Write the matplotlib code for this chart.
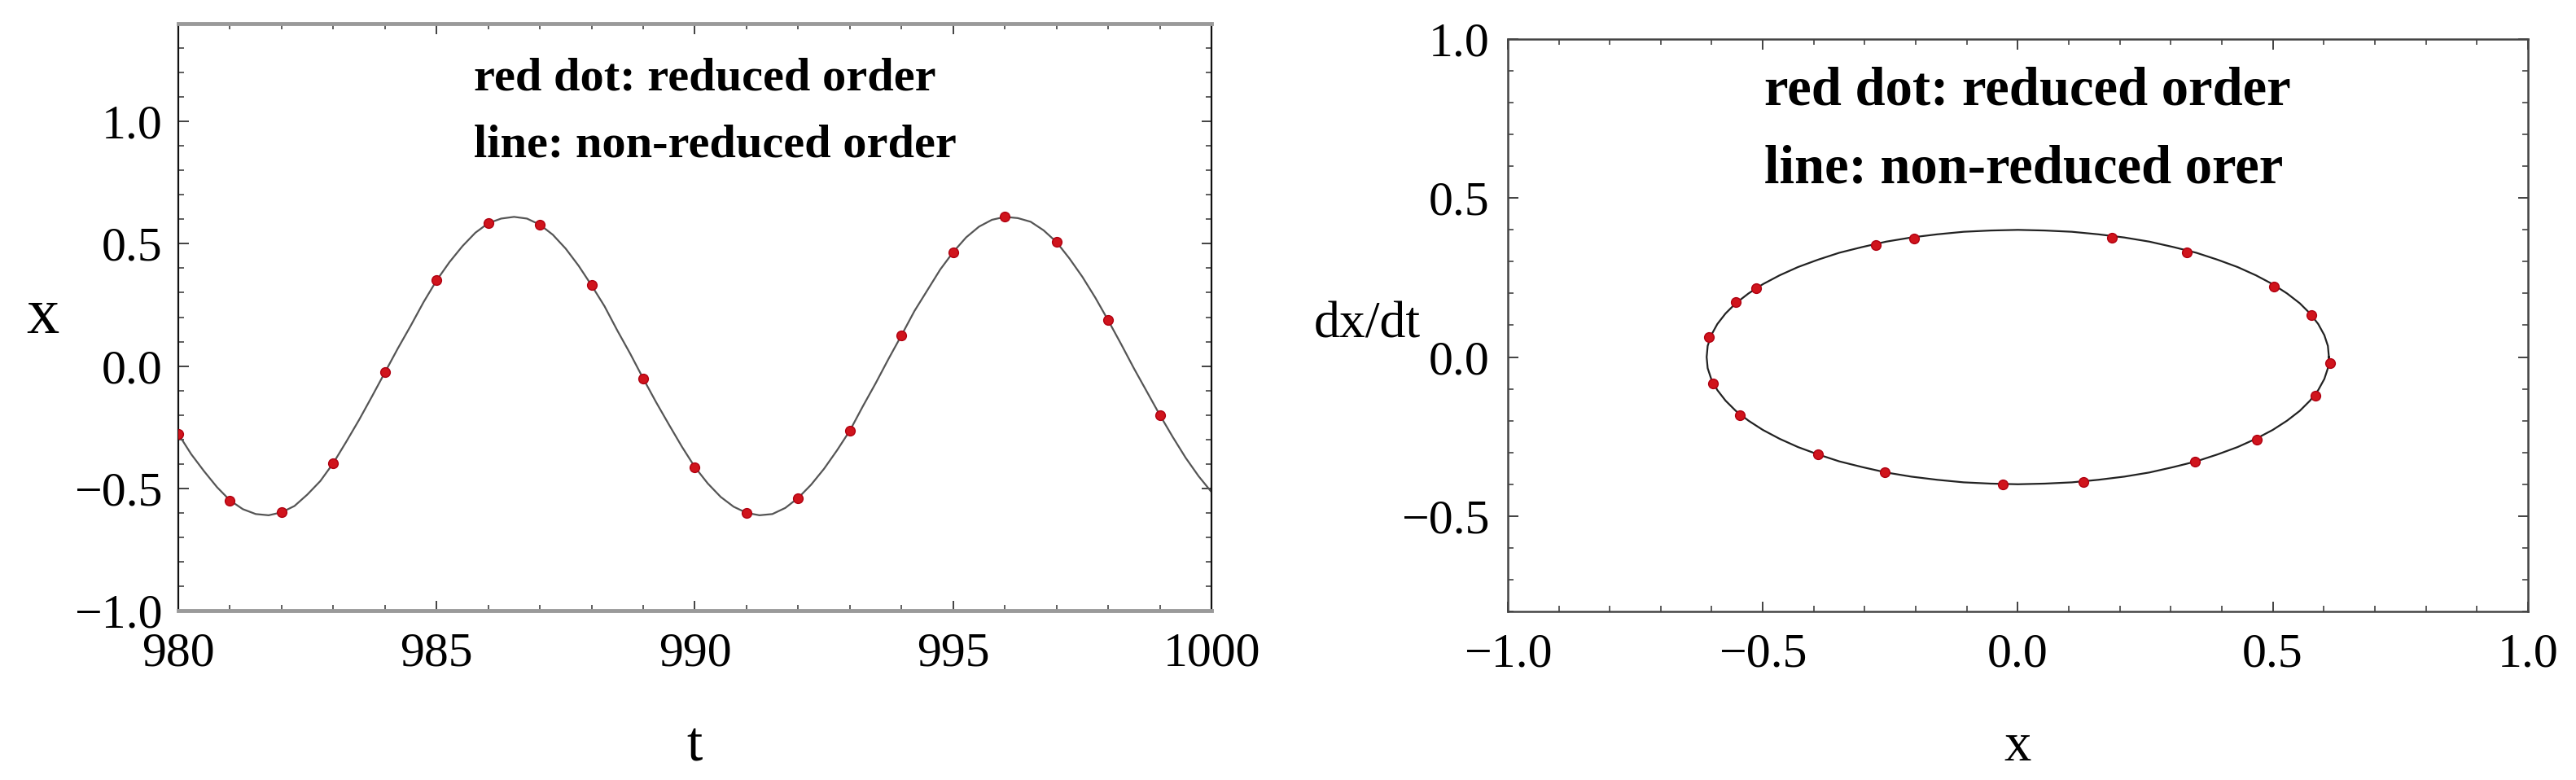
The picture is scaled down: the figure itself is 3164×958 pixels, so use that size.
import matplotlib
matplotlib.use("Agg")
import matplotlib.pyplot as plt
import numpy as np
from matplotlib.ticker import MultipleLocator, FixedLocator

plt.rcParams['font.family'] = ['Liberation Serif', 'DejaVu Serif']

# left panel: x(t), line sampled every 0.25 in t
t_line = np.arange(980.0, 1000.01, 0.25)
x_line = [-0.277, -0.36, -0.43, -0.495, -0.549, -0.585, -0.605, -0.61, -0.598, -0.572,
          -0.525, -0.47, -0.397, -0.31, -0.22, -0.124, -0.026, 0.072, 0.165, 0.262,
          0.35, 0.425, 0.49, 0.545, 0.584, 0.603, 0.61, 0.603, 0.578, 0.537,
          0.48, 0.41, 0.33, 0.245, 0.145, 0.05, -0.051, -0.148, -0.24, -0.33,
          -0.413, -0.48, -0.535, -0.575, -0.60, -0.61, -0.605, -0.58, -0.539, -0.485,
          -0.42, -0.345, -0.264, -0.165, -0.07, 0.03, 0.126, 0.225, 0.31, 0.395,
          0.466, 0.526, 0.57, 0.598, 0.61, 0.605, 0.59, 0.555, 0.507, 0.44,
          0.365, 0.28, 0.187, 0.09, -0.01, -0.105, -0.20, -0.29, -0.375, -0.45, -0.515]
t_dot = [980, 981, 982, 983, 984, 985, 986, 987, 988, 989,
         990, 991, 992, 993, 994, 995, 996, 997, 998, 999]
x_dot = [-0.277, -0.549, -0.598, -0.397, -0.026, 0.35, 0.584, 0.578, 0.33, -0.051,
         -0.413, -0.60, -0.539, -0.264, 0.126, 0.466, 0.61, 0.507, 0.187, -0.20]

# right panel: phase portrait (closed curve)
px_line = [0.610, 0.608, 0.601, 0.589, 0.573, 0.553, 0.528, 0.500, 0.467, 0.431,
           0.392, 0.350, 0.305, 0.258, 0.209, 0.158, 0.106, 0.053, 0.0,
           -0.053, -0.106, -0.158, -0.209, -0.258, -0.305, -0.350, -0.392, -0.431,
           -0.467, -0.500, -0.528, -0.553, -0.573, -0.589, -0.601, -0.608, -0.610,
           -0.608, -0.601, -0.589, -0.573, -0.553, -0.528, -0.500, -0.467, -0.431,
           -0.392, -0.350, -0.305, -0.258, -0.209, -0.158, -0.106, -0.053, 0.0,
           0.053, 0.106, 0.158, 0.209, 0.258, 0.305, 0.350, 0.392, 0.431,
           0.467, 0.500, 0.528, 0.553, 0.573, 0.589, 0.601, 0.608, 0.610]
pv_line = [0.0, 0.035, 0.069, 0.104, 0.137, 0.169, 0.200, 0.229, 0.257, 0.283,
           0.306, 0.328, 0.346, 0.363, 0.376, 0.386, 0.394, 0.398, 0.400,
           0.398, 0.394, 0.386, 0.376, 0.363, 0.346, 0.328, 0.306, 0.283,
           0.257, 0.229, 0.200, 0.169, 0.137, 0.104, 0.069, 0.035, 0.0,
           -0.035, -0.069, -0.104, -0.137, -0.169, -0.200, -0.229, -0.257, -0.283,
           -0.306, -0.328, -0.346, -0.363, -0.376, -0.386, -0.394, -0.398, -0.400,
           -0.398, -0.394, -0.386, -0.376, -0.363, -0.346, -0.328, -0.306, -0.283,
           -0.257, -0.229, -0.200, -0.169, -0.137, -0.104, -0.069, -0.035, 0.0]
px_dot = [-0.279, -0.203, 0.185, 0.331, 0.503, 0.576, 0.613, 0.584, 0.468, 0.347,
          0.129, -0.029, -0.26, -0.392, -0.545, -0.598, -0.605, -0.553, -0.513]
pv_dot = [0.352, 0.373, 0.375, 0.33, 0.222, 0.131, -0.02, -0.122, -0.261, -0.328,
          -0.392, -0.40, -0.361, -0.306, -0.184, -0.083, 0.064, 0.172, 0.217]

fig = plt.figure(figsize=(31.64, 9.58), dpi=100)
ax1 = fig.add_axes([0.0692, 0.2171, 0.4011, 0.7526])
ax2 = fig.add_axes([0.5853, 0.2161, 0.3960, 0.7338])

red = '#d0141c'

ax1.plot(t_line, x_line, color='#555555', lw=1.6, zorder=2)
ax1.plot(t_dot, x_dot, 'o', color=red, ms=8.5, mec='#b00010', zorder=3)
ax1.set_xlim(980, 1000)
ax1.set_ylim(-1.0, 1.4)
ax1.xaxis.set_major_locator(MultipleLocator(5))
ax1.xaxis.set_minor_locator(MultipleLocator(1))
ax1.yaxis.set_major_locator(FixedLocator([-1.0, -0.5, 0.0, 0.5, 1.0]))
ax1.yaxis.set_minor_locator(MultipleLocator(0.1))
ax1.ticklabel_format(useOffset=False)
for s in ['top', 'bottom']:
    ax1.spines[s].set_color('#9a9a9a')
    ax1.spines[s].set_linewidth(3.5)
for s in ['left', 'right']:
    ax1.spines[s].set_color('#111111')
    ax1.spines[s].set_linewidth(1.6)
ax1.set_xlabel('t', fontsize=50, labelpad=40)
ax1.set_ylabel('x', fontsize=58, rotation=0, labelpad=28, va='center')
ax1.text(985.72, 1.13, 'red dot: reduced order', fontsize=42, fontweight='bold')
ax1.text(985.72, 0.857, 'line: non-reduced order', fontsize=42, fontweight='bold')

ax2.plot(px_line, pv_line, color='#222222', lw=1.6, zorder=2)
ax2.plot(px_dot, pv_dot, 'o', color=red, ms=8.5, mec='#b00010', zorder=3)
ax2.set_xlim(-1.0, 1.0)
ax2.set_ylim(-0.8, 1.0)
ax2.xaxis.set_major_locator(MultipleLocator(0.5))
ax2.xaxis.set_minor_locator(MultipleLocator(0.1))
ax2.yaxis.set_major_locator(MultipleLocator(0.5))
ax2.yaxis.set_minor_locator(MultipleLocator(0.1))
for s in ax2.spines.values():
    s.set_color('#444444')
    s.set_linewidth(1.8)
ax2.set_xlabel('x', fontsize=48, labelpad=40)
ax2.set_ylabel('dx/dt', fontsize=46, rotation=0, labelpad=30, va='center')
ax2.text(-0.497, 0.795, 'red dot: reduced order', fontsize=48, fontweight='bold')
ax2.text(-0.497, 0.547, 'line: non-reduced orer', fontsize=48, fontweight='bold')

for ax in (ax1, ax2):
    ax.tick_params(which='both', direction='in', top=True, right=True,
                   labelsize=43, color='#333333')
    ax.tick_params(which='major', length=9, width=1.3)
    ax.tick_params(which='minor', length=5, width=1.1)
    ax.tick_params(axis='x', which='major', pad=19)
ax1.tick_params(axis='y', which='major', pad=14)
ax2.tick_params(axis='y', which='major', pad=16)

fig.savefig('out.png', dpi=100)
